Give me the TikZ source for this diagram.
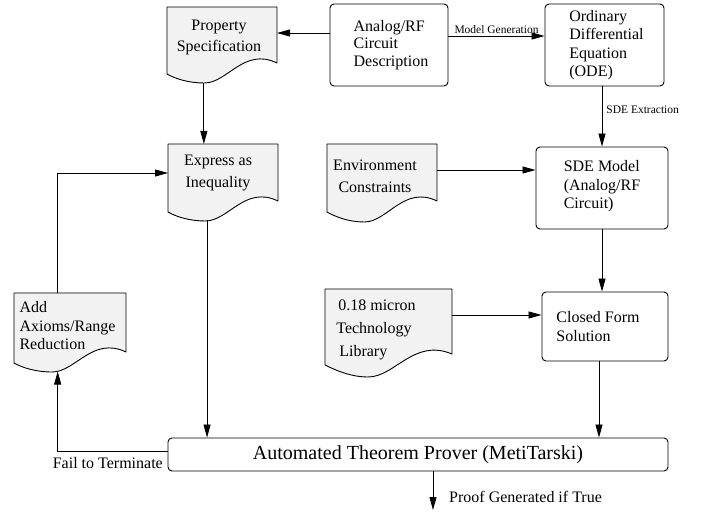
\documentclass[tikz,border=0pt]{standalone}
\usepackage{fontspec}
\setmainfont{Liberation Serif}
\usetikzlibrary{arrows.meta,calc,backgrounds}
\definecolor{docgray}{HTML}{F2F2F2}
\tikzset{
  rbox/.style={draw, line width=0.9pt, rounded corners=4pt, fill=white, inner sep=0pt},
  docnode/.style={inner sep=0pt, outer sep=0pt},
  txt/.style={font=\fontsize{16}{18.5}\selectfont, align=left, inner sep=0pt},
  arr/.style={line width=0.8pt, -{Triangle[length=13pt,width=7pt]}},
  small/.style={font=\fontsize{11.5}{13}\selectfont, inner sep=2pt},
  lbl/.style={font=\fontsize{16}{18}\selectfont, inner sep=0pt},
  docfill/.style={draw, line width=0.9pt, fill=docgray, line join=round}
}
\newcommand\docbody[2]{%
  \path[docfill] let \p1=(#1.north west), \p2=(#1.south east), \n1={\x2-\x1} in
    (\p1) -- (\x2,\y1) -- (\p2)
    .. controls ({\x2-0.3*\n1},{\y2+16pt}) and ({\x1+0.55*\n1},{\y2-#2pt}) .. ({\x1+0.34*\n1},{\y2-#2pt})
    .. controls ({\x1+0.2*\n1},{\y2-#2pt}) and ({\x1+0.08*\n1},{\y2-16pt}) .. (\x1,{\y2-11pt}) -- cycle;}
\begin{document}
\begin{tikzpicture}[x=1pt,y=-1pt]
\useasboundingbox (0,0) rectangle (702,513);

% document-shaped nodes
\node[docnode, minimum width=110pt, minimum height=56pt,
  label={[txt, align=center, font=\fontsize{16}{21}\selectfont, xshift=-3pt, yshift=-2pt]center:{Property\\Specification}}] (prop) at (222,35) {};
\node[docnode, minimum width=110pt, minimum height=57pt,
  label={[txt, align=center, font=\fontsize{16}{22}\selectfont, xshift=-5pt, yshift=-0.5pt]center:{Express as\\Inequality}}] (expr) at (223,172.5) {};
\node[docnode, minimum width=110pt, minimum height=57pt,
  label={[txt, align=center, font=\fontsize{16}{22}\selectfont, xshift=-7pt, yshift=-3.5pt]center:{Environment\\Constraints}}] (env) at (382,172.5) {};
\node[docnode, minimum width=112pt, minimum height=59pt,
  label={[txt, align=left, xshift=-2.5pt, yshift=-3.5pt]center:{Add\\Axioms/Range\\Reduction}}] (add) at (70,322.5) {};
\node[docnode, minimum width=127pt, minimum height=65pt,
  label={[txt, align=left, font=\fontsize{16}{23}\selectfont, xshift=-12.5pt, yshift=-8.5pt]center:{\hspace{2pt}0.18 micron\\Technology\\\hspace{3pt}Library}}] (lib) at (388.5,321.5) {};

% rounded boxes
\node[rbox, minimum width=118pt, minimum height=82pt,
  label={[txt, font=\fontsize{16}{17.5}\selectfont, xshift=2pt]center:{Analog/RF\\Circuit\\Description}}] (analog) at (389,45) {};
\node[rbox, minimum width=119pt, minimum height=82pt,
  label={[txt, xshift=2pt]center:{Ordinary\\Differential\\Equation\\(ODE)}}] (ode) at (604.5,45) {};
\node[rbox, minimum width=132pt, minimum height=82pt,
  label={[txt, yshift=1.5pt]center:{SDE Model\\(Analog/RF\\Circuit)}}] (sde) at (602,188) {};
\node[rbox, minimum width=126pt, minimum height=69pt,
  label={[txt, xshift=-7pt]center:{Closed Form\\Solution}}] (closed) at (605,326.5) {};
\node[rbox, minimum width=500pt, minimum height=33pt, font=\fontsize{20}{24}\selectfont] (prover) at (418,454.5) {Automated Theorem Prover (MetiTarski)};

\begin{scope}[on background layer]
  \docbody{prop}{20}
  \docbody{expr}{20}
  \docbody{env}{21}
  \docbody{add}{20}
  \docbody{lib}{23}
\end{scope}

\coordinate (propb) at ($(prop.south west)!0.335!(prop.south east)+(0,20)$);
\coordinate (exprb) at ($(expr.south west)!0.355!(expr.south east)+(0,19.5)$);
\coordinate (addb) at ($(add.south west)!0.39!(add.south east)+(0,19.5)$);
\coordinate (proofend) at (433,510);

% connectors
\draw[arr] (analog.west |- 0,33) -- (prop.east |- 0,33);
\draw[arr] (analog.east |- 0,36) -- node[small, above] (mg) {Model Generation} (ode.west |- 0,36);
\draw[arr] (ode.south -| 602,0) -- node[small, right=2pt, pos=0.38] (sdex) {SDE Extraction} (sde.north -| 602,0);
\draw[arr] (propb) -- (expr.north -| propb);
\draw[arr] (env.east |- 0,170) -- (sde.west |- 0,170);
\draw[arr] (add.north -| addb) |- (expr.west |- 0,173);
\draw[arr] (exprb) -- (prover.north -| exprb);
\draw[arr] (sde.south -| 602,0) -- (closed.north -| 602,0);
\draw[arr] (lib.east |- 0,315) -- (closed.west |- 0,315);
\draw[arr] (closed.south -| 599,0) -- (prover.north -| 599,0);
\draw[arr] (prover.west |- 0,451) -| (addb);
\draw[arr] (prover.south -| proofend) -- (proofend);

\node[lbl, anchor=east] (fail) at (163,463) {Fail to Terminate};
\node[lbl, anchor=west] (proof) at (449,497) {Proof Generated if True};
\end{tikzpicture}
\end{document}
